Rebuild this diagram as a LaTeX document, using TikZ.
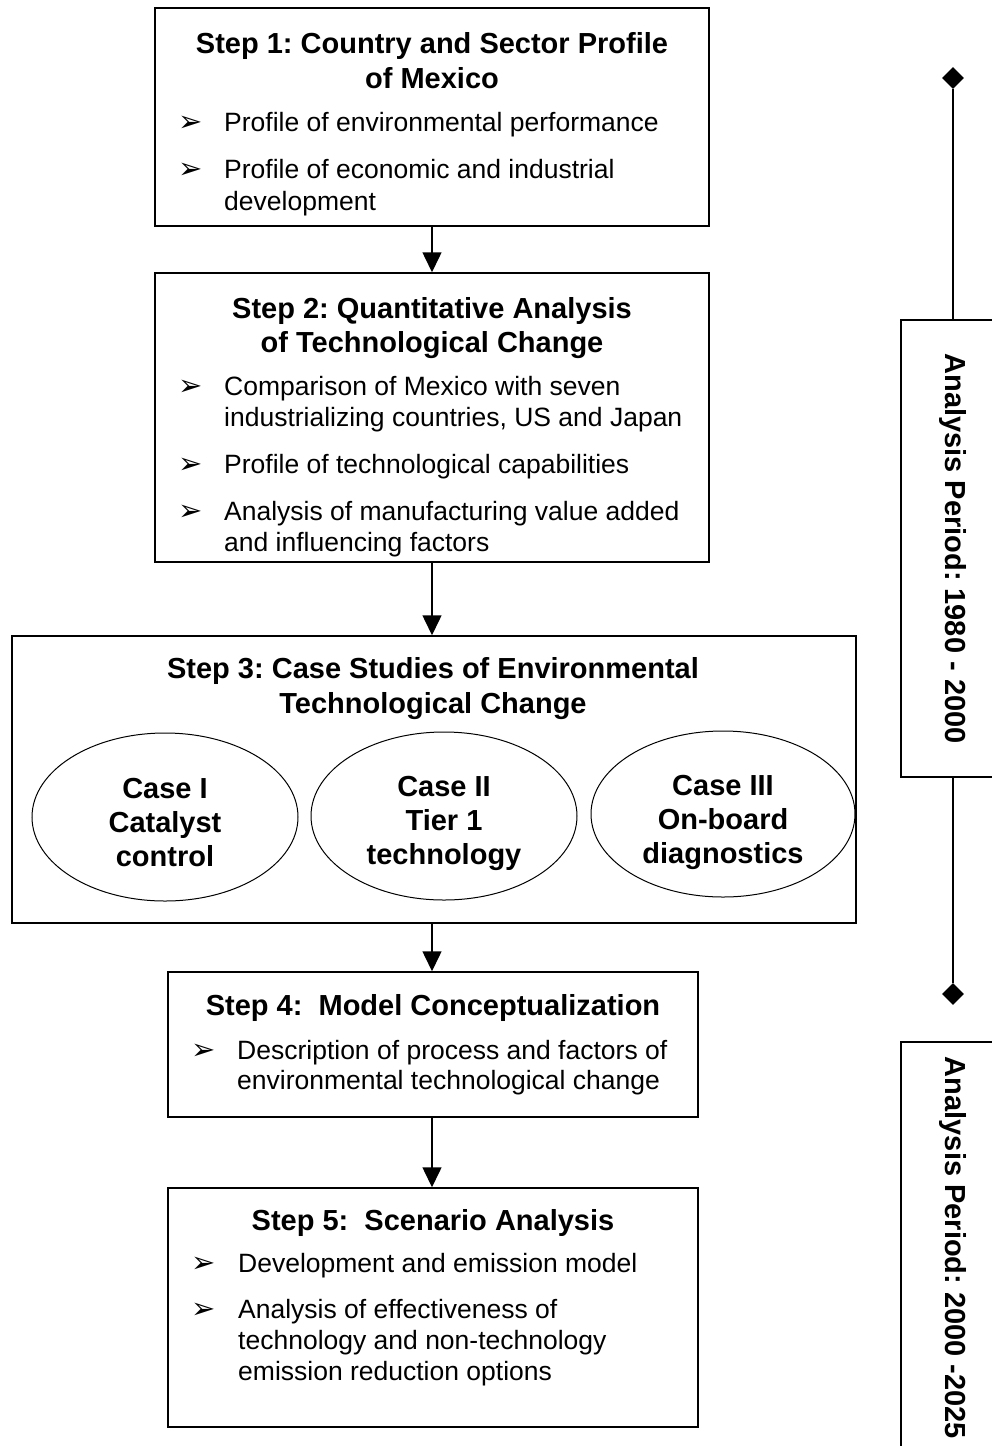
\documentclass[tikz,border=0pt]{standalone}
\usepackage{fontspec}
\setmainfont{Liberation Sans}
\newfontfamily\dingfont{DejaVu Sans}
\usetikzlibrary{shapes.geometric,arrows.meta,positioning}
\frenchspacing

\begin{document}
\begin{tikzpicture}[x=1pt,y=-1pt,
        stepbox/.style={draw, rectangle, line width=1.5pt, inner sep=0pt},
        title/.style={anchor=base, inner sep=0pt, font=\fontsize{29}{34}\selectfont\bfseries},
        item/.style={anchor=base west, inner sep=0pt, font=\fontsize{26.5}{31}\selectfont},
        bul/.style={anchor=base west, inner sep=0pt, font=\fontsize{29}{31}\selectfont\dingfont},
        case/.style={draw, ellipse, line width=1pt, inner sep=0pt, minimum width=266pt, minimum height=168pt},
        casetext/.style={inner sep=0pt, align=center, font=\fontsize{29}{34}\selectfont\bfseries},
        period/.style={draw, rectangle, line width=1.5pt, rotate=-90, inner sep=0pt, minimum height=104pt, font=\fontsize{29}{34}\selectfont\bfseries},
        milestone/.style={diamond, fill=black, inner sep=0pt, minimum size=22pt},
        arrow/.style={line width=1.5pt, -{Triangle[length=20pt, width=19pt]}}
    ]
    \clip (0,0) rectangle (992,1446);

    % boxes of the five steps
    \node[stepbox, minimum width=554pt, minimum height=218pt] (s1) at (432,117) {};
    \node[stepbox, minimum width=554pt, minimum height=289pt] (s2) at (432,417.5) {};
    \node[stepbox, minimum width=844pt, minimum height=287pt] (s3) at (434,779.5) {};
    \node[stepbox, minimum width=530pt, minimum height=145pt] (s4) at (433,1044.5) {};
    \node[stepbox, minimum width=530pt, minimum height=239pt] (s5) at (433,1307.5) {};

    % step 1
    \node[title] (t1a) at (432,53) {Step 1: Country and Sector Profile};
    \node[title] (t1b) at (432,88) {of Mexico};
    \node[bul] (b1a) at (178,131) {➢};
    \node[item] (i1a) at (224,131) {Profile of environmental performance};
    \node[bul] (b1b) at (178,178) {➢};
    \node[item] (i1b) at (224,178) {Profile of economic and industrial};
    \node[item] (i1c) at (224,210) {development};

    % step 2
    \node[title] (t2a) at (432,318) {Step 2: Quantitative Analysis};
    \node[title] (t2b) at (432,352) {of Technological Change};
    \node[bul] (b2a) at (178,395) {➢};
    \node[item] (i2a) at (224,395) {Comparison of Mexico with seven};
    \node[item] (i2b) at (224,426) {industrializing countries, US and Japan};
    \node[bul] (b2b) at (178,473) {➢};
    \node[item] (i2c) at (224,473) {Profile of technological capabilities};
    \node[bul] (b2c) at (178,520) {➢};
    \node[item] (i2d) at (224,520) {Analysis of manufacturing value added};
    \node[item] (i2e) at (224,551) {and influencing factors};

    % step 3
    \node[title] (t3a) at (433,678) {Step 3: Case Studies of Environmental};
    \node[title] (t3b) at (433,713) {Technological Change};
    \node[case] (c1) at (165,817) {};
    \node[case] (c2) at (444,816) {};
    \node[case, minimum width=264pt, minimum height=166pt] (c3) at (723,814) {};
    \node[casetext] (c1t) at ([yshift=-6pt]c1.center) {Case I\\Catalyst\\control};
    \node[casetext] (c2t) at ([yshift=-7pt]c2.center) {Case II\\Tier 1\\technology};
    \node[casetext] (c3t) at ([yshift=-8pt]c3.center) {Case III\\On-board\\diagnostics};

    % step 4
    \node[title] (t4a) at (433,1015) {Step 4:\ \ Model Conceptualization};
    \node[bul] (b4a) at (191,1059) {➢};
    \node[item] (i4a) at (237,1059) {Description of process and factors of};
    \node[item] (i4b) at (237,1089) {environmental technological change};

    % step 5
    \node[title] (t5a) at (433,1230) {Step 5:\ \ Scenario Analysis};
    \node[bul] (b5a) at (191,1272) {➢};
    \node[item] (i5a) at (238,1272) {Development and emission model};
    \node[bul] (b5b) at (191,1318) {➢};
    \node[item] (i5b) at (238,1318) {Analysis of effectiveness of};
    \node[item] (i5c) at (238,1349) {technology and non-technology};
    \node[item] (i5d) at (238,1380) {emission reduction options};

    \draw[arrow] (s1.south) -- (s1.south |- s2.north);
    \draw[arrow] (s2.south) -- (s2.south |- s3.north);
    \draw[arrow] (s2.south |- s3.south) -- (s2.south |- s4.north);
    \draw[arrow] (s2.south |- s4.south) -- (s2.south |- s5.north);

    % time line
    \node[period, minimum width=457pt] (p1) at (953,548.5) {Analysis Period: 1980 - 2000};
    \node[period, minimum width=412pt] (p2) at (953,1248) {Analysis Period: 2000 -2025};
    \node[milestone] (m1) at (953,78) {};
    \node[milestone] (m2) at (953,994) {};
    \draw[line width=1.5pt] (m1) -- (p1);
    \draw[line width=1.5pt] (p1) -- (m2);
\end{tikzpicture}
\end{document}
